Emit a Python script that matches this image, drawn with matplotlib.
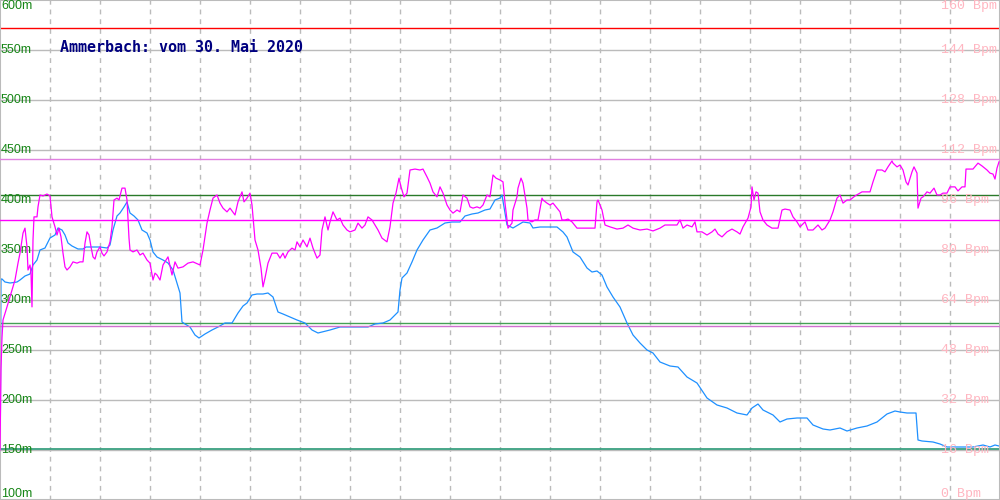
import matplotlib
matplotlib.use("Agg")
from matplotlib import pyplot as plt
import numpy as np

# elevation profile (m), sample position along the track
elev_x = [0, 1, 2, 5, 10, 17, 20, 25, 30, 33,
          37, 40, 45, 50, 55, 58, 62, 65, 68, 72,
          78, 83, 86, 90, 95, 100, 107, 110, 113, 117,
          120, 124, 127, 130, 134, 138, 142, 147, 150, 153,
          157, 163, 168, 173, 177, 180, 182, 185, 190, 195,
          199, 205, 212, 218, 225, 232, 238, 243, 247, 252,
          257, 263, 268, 273, 278, 283, 290, 297, 305, 312,
          318, 322, 330, 340, 350, 360, 368, 375, 383, 390,
          395, 398, 400, 402, 407, 412, 417, 423, 430, 437,
          445, 452, 460, 465, 472, 478, 485, 490, 495, 500,
          502, 507, 513, 523, 530, 533, 540, 550, 557, 563,
          567, 573, 580, 587, 592, 597, 602, 607, 613, 620,
          627, 633, 640, 647, 653, 660, 670, 678, 687, 697,
          707, 717, 727, 737, 747, 752, 758, 763, 773, 780,
          787, 797, 807, 813, 823, 830, 840, 847, 857, 867,
          877, 887, 895, 900, 907, 913, 916, 918, 922, 933,
          940, 947, 960, 973, 983, 990, 995, 999]
elev_m = [100, 321, 321, 318, 317, 318, 320, 324, 326, 335,
          340, 350, 352, 362, 365, 372, 370, 365, 357, 354,
          351, 351, 353, 353, 353, 353, 352, 355, 370, 384,
          387, 393, 398, 387, 384, 380, 370, 367, 360, 348,
          343, 340, 337, 330, 317, 307, 278, 276, 273, 265,
          262, 266, 270, 273, 277, 277, 287, 294, 297, 305,
          306, 306, 307, 303, 288, 286, 283, 280, 277, 270,
          267, 268, 270, 273, 273, 273, 273, 276, 277, 280,
          285, 288, 310, 322, 327, 338, 350, 360, 370, 372,
          377, 378, 378, 384, 386, 387, 390, 391, 400, 402,
          405, 375, 372, 378, 377, 372, 373, 373, 373, 368,
          363, 348, 343, 332, 328, 329, 325, 313, 303, 293,
          277, 265, 257, 250, 247, 238, 234, 233, 223, 217,
          202, 195, 192, 187, 185, 192, 196, 190, 185, 178,
          181, 182, 182, 175, 171, 170, 172, 169, 172, 174,
          178, 186, 189, 188, 187, 187, 187, 160, 159, 158,
          156, 153, 153, 153, 155, 153, 155, 154]

# heart rate (Bpm)
hr_x = [0, 1, 2, 3, 7, 12, 15, 18, 20, 23,
        25, 27, 28, 30, 31, 32, 33, 34, 37, 38,
        40, 43, 47, 50, 52, 55, 57, 59, 61, 63,
        65, 67, 70, 73, 77, 80, 83, 85, 87, 89,
        91, 93, 95, 97, 100, 102, 104, 107, 110, 112,
        114, 117, 119, 122, 125, 127, 129, 130, 133, 137,
        140, 143, 147, 150, 153, 155, 157, 160, 163, 168,
        172, 175, 178, 183, 188, 193, 200, 203, 207, 210,
        213, 217, 220, 223, 227, 230, 235, 238, 242, 244,
        247, 250, 252, 255, 258, 261, 263, 265, 268, 272,
        277, 280, 283, 285, 288, 292, 295, 297, 300, 303,
        307, 310, 313, 317, 320, 322, 325, 328, 330, 333,
        337, 340, 343, 347, 350, 355, 358, 362, 365, 368,
        372, 375, 378, 382, 387, 390, 393, 396, 399, 401,
        404, 407, 410, 415, 420, 423, 427, 430, 433, 437,
        440, 443, 447, 450, 453, 457, 460, 463, 467, 470,
        473, 477, 480, 483, 487, 490, 493, 496, 500, 503,
        505, 508, 512, 513, 517, 518, 521, 523, 527, 528,
        532, 535, 538, 542, 543, 547, 550, 553, 557, 560,
        562, 565, 568, 572, 577, 587, 595, 597, 598, 602,
        605, 610, 617, 623, 628, 633, 640, 647, 653, 660,
        665, 670, 677, 680, 683, 687, 692, 695, 697, 702,
        707, 712, 715, 718, 722, 727, 732, 737, 740, 743,
        748, 751, 752, 754, 756, 758, 760, 763, 767, 772,
        778, 782, 785, 790, 793, 797, 800, 805, 808, 813,
        818, 822, 825, 830, 833, 837, 840, 843, 847, 850,
        855, 862, 870, 873, 877, 882, 885, 888, 892, 893,
        897, 900, 903, 906, 908, 912, 914, 917, 918, 921,
        923, 927, 930, 934, 937, 940, 943, 947, 950, 955,
        958, 962, 965, 966, 973, 978, 982, 987, 990, 993,
        995, 997, 999]
hr_bpm = [16, 42, 52, 57.6, 61.8, 67.2, 70.4, 75.8, 79, 85.4,
          87, 81, 73.6, 75.2, 72.6, 61.8, 83.2, 90.6, 90.6, 93.8,
          97.6, 97.3, 97.9, 97.3, 90.6, 87.4, 84.8, 87, 84.2, 79,
          74.6, 73.6, 74.6, 76.2, 75.8, 76.2, 76.2, 82.2, 85.8, 84.8,
          81, 77.8, 77.1, 79.4, 81, 79, 78.1, 79.4, 82.6, 87.4,
          96, 96.6, 96, 99.8, 99.8, 96, 83.8, 80, 79.4, 80,
          78.4, 79, 76.8, 75.8, 70.4, 72.6, 72, 70.4, 75.2, 77.8,
          72, 76.2, 74.2, 74.6, 75.8, 76.2, 75.2, 80, 88.6, 92.8,
          96.6, 97.6, 95, 93.4, 92.2, 93.4, 91.2, 95.4, 98.6, 95.4,
          96.6, 98.2, 94.4, 83.2, 80, 74.2, 68.2, 71, 75.8, 79,
          79, 77.4, 79, 77.4, 79.4, 80.6, 80, 82.6, 81, 83.2,
          81, 83.8, 80.6, 77.4, 78.4, 86.4, 90.6, 86.4, 89, 92.2,
          89.6, 90.2, 88, 86.4, 85.8, 86.4, 88.6, 87, 88, 90.6,
          89.6, 88, 86.4, 83.8, 82.6, 87.4, 95, 98.2, 103, 100.2,
          97, 98.2, 105.6, 105.9, 105.6, 105.9, 103.4, 101.4, 98.6, 97,
          100.2, 98.2, 94.4, 92.8, 91.8, 92.8, 92.2, 97.6, 96.6, 93.8,
          93.4, 93.8, 93.4, 94.4, 97.6, 97, 104, 103, 102.4, 101.8,
          95, 87, 88.6, 92.8, 97, 99.8, 103, 101.4, 93.4, 89.6,
          89, 89.6, 89.6, 96.6, 96, 95, 94.4, 95, 93.4, 92.2,
          89.6, 89.6, 89.9, 89, 87, 87, 87, 95.4, 96, 92.8,
          88, 87.4, 86.7, 87, 88, 87, 86.4, 86.7, 86.1, 87,
          88, 88, 88, 89.6, 87, 88, 87.4, 89, 85.8, 85.8,
          84.8, 85.8, 86.7, 85.1, 84.2, 85.8, 86.7, 85.8, 85.1, 87.4,
          90.2, 93.8, 100.2, 96, 98.6, 98.2, 92.2, 89.6, 88, 87,
          87, 92.8, 93.1, 92.8, 90.6, 89, 87.4, 89, 86.4, 86.4,
          88, 86.4, 87, 89.6, 92.2, 96.6, 97.6, 95, 96, 96,
          97.3, 98.6, 98.6, 101.8, 105.6, 105.6, 105, 106.6, 108.5, 107.8,
          106.6, 107.2, 105.6, 101.8, 100.8, 105, 106.6, 104.6, 93.4, 96.6,
          97, 98.6, 98.2, 99.8, 97.6, 97.6, 98.2, 98.2, 100.2, 100.2,
          98.9, 100.2, 100.2, 105.9, 105.9, 107.8, 106.9, 105.6, 104.6, 104.3,
          102.7, 106.2, 108.2]

# reference lines
elev_max, elev_avg, elev_min = 405, 277, 151
hr_max, hr_avg, hr_min = 109, 89.6, 55.8
red_line_m = 572

elev_ticks = [100, 150, 200, 250, 300, 350, 400, 450, 500, 550, 600]
hr_ticks = [0, 16, 32, 48, 64, 80, 96, 112, 128, 144, 160]
title = "Ammerbach: vom 30. Mai 2020"

fig = plt.figure(figsize=(10, 5), dpi=100)
ax = fig.add_axes([0, 0, 1, 1])
ax.set_xlim(0, 1000)
ax.set_ylim(100, 600)
ax.set_xticks(np.arange(50, 1000, 50))
ax.set_yticks(elev_ticks[1:-1])
ax.tick_params(length=0, labelleft=False, labelbottom=False)
ax.grid(axis='y', color='#bbbbbb', lw=1.0)
ax.grid(axis='x', color='#bbbbbb', lw=1.0, linestyle=(0, (3.5, 3.5)))
for s in ax.spines.values():
    s.set_color('#bbbbbb')
    s.set_linewidth(1.5)

ax2 = ax.twinx()
ax2.set_ylim(0, 160)
ax2.set_yticks([])
for s in ax2.spines.values():
    s.set_visible(False)

# reference lines
ax.axhline(red_line_m, color='#ff0000', lw=1.0)
ax.axhline(elev_max, color='#2a7a2a', lw=1.0)
ax.axhline(elev_avg, color='#44a055', lw=1.0)
ax.axhline(elev_min, color='#3aa080', lw=1.3)
ax2.axhline(hr_max, color='#e080e0', lw=1.0)
ax2.axhline(hr_avg, color='#ff00ff', lw=1.0)
ax2.axhline(hr_min, color='#d070d0', lw=1.0)

ax.plot(elev_x, elev_m, color='#1e90ff', lw=0.9)
ax2.plot(hr_x, hr_bpm, color='#ff00ff', lw=0.9)

# axis labels drawn inside the plot
ytr = ax.get_yaxis_transform()
for v in elev_ticks:
    va = 'top' if v == 600 else ('bottom' if v == 100 else 'center')
    ax.text(0.001, v, f"{v}m", transform=ytr, color='#158515', fontsize=9,
            family='Liberation Sans', va=va, ha='left')
ytr2 = ax2.get_yaxis_transform()
for v in hr_ticks:
    va = 'top' if v == 160 else ('bottom' if v == 0 else 'center')
    ax2.text(0.941, v, f"{v} Bpm", transform=ytr2, color='#ffb6c1',
             fontsize=9.6, family='Liberation Mono', va=va, ha='left')

ax.text(0.06, 0.904, title, transform=ax.transAxes, color='#000080',
        fontsize=10.8, family='DejaVu Sans Mono', weight='bold', va='center')

fig.savefig('out.png', dpi=100)
